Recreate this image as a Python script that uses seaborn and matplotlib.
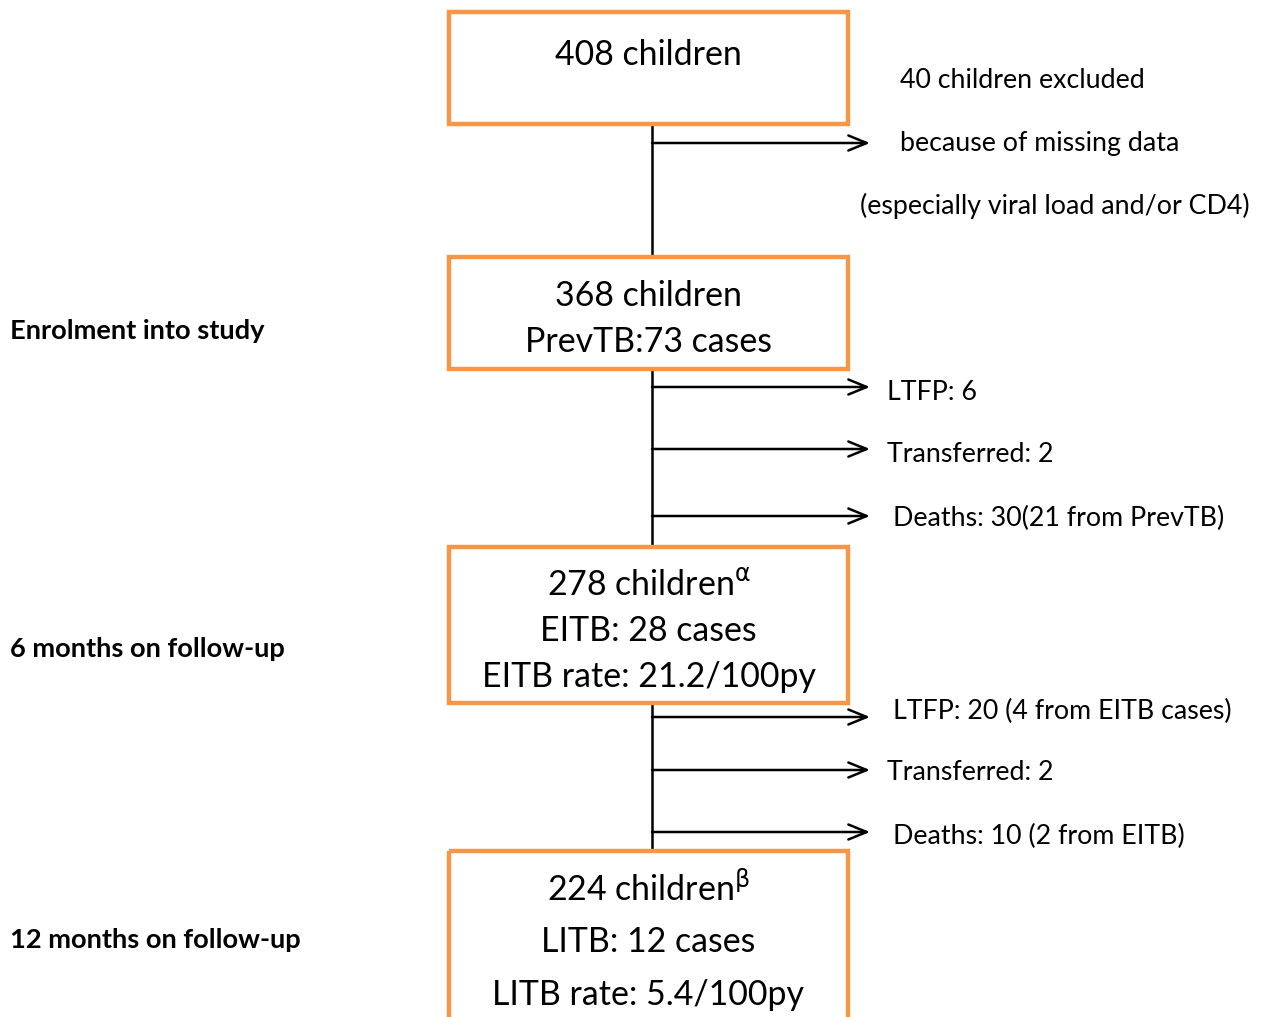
import matplotlib
matplotlib.use("Agg")
import matplotlib.pyplot as plt
import seaborn as sns
import pandas as pd
from matplotlib.patches import Rectangle

sns.set_theme(style="white")
plt.rcParams['font.family'] = ['Lato', 'DejaVu Sans']

# ---- data ----
box_lines = [
    ["408 children"],
    ["368 children", "PrevTB:73 cases"],
    [r"278 children$^{\mathrm{\alpha}}$", "EITB: 28 cases", "EITB rate: 21.2/100py"],
    [r"224 children$^{\mathrm{\beta}}$", "LITB: 12 cases", "LITB rate: 5.4/100py"],
]
stage_labels = ["Enrolment into study", "6 months on follow-up", "12 months on follow-up"]
exit_labels = [
    ["40 children excluded", "because of missing data", "(especially viral load and/or CD4)"],
    ["LTFP: 6", "Transferred: 2", "Deaths: 30(21 from PrevTB)"],
    ["LTFP: 20 (4 from EITB cases)", "Transferred: 2", "Deaths: 10 (2 from EITB)"],
]

# ---- layout (pixel coordinates) ----
W, H = 1269, 1017
box_x0, box_x1 = 449, 848
box_y = [(12, 124), (257, 369), (547, 703), (851, 1030)]
box_text_y = [[55], [296, 342], [585, 631, 677], [889, 942, 995]]
stage_y = [331, 649, 940]
trunk_x = 652
arrow_end = 870
arrow_y = [[143], [387, 449, 516], [717, 770, 832]]
exit_pos = [
    [(900, 81), (900, 143), (860, 206)],
    [(887, 393), (887, 455), (893, 518)],
    [(893, 711), (887, 773), (893, 836)],
]
orange = "#F79646"

fig = plt.figure(figsize=(W / 100, H / 100), dpi=100)
ax = fig.add_axes([0, 0, 1, 1])

# trunk connectors via seaborn
segs = []
for i in range(len(box_y) - 1):
    segs.append(pd.DataFrame({"x": [trunk_x, trunk_x],
                              "y": [box_y[i][1], box_y[i + 1][0]],
                              "seg": i}))
df = pd.concat(segs)
sns.lineplot(data=df, x="x", y="y", units="seg", estimator=None,
             color="black", lw=1.8, ax=ax, sort=False)
ax.set_xlim(0, W)
ax.set_ylim(H, 0)
ax.axis("off")

# boxes
for (y0, y1) in box_y:
    ax.add_patch(Rectangle((box_x0, y0), box_x1 - box_x0, y1 - y0,
                           fill=False, edgecolor=orange, lw=3.2, zorder=3))

# box texts
for lines, ys in zip(box_lines, box_text_y):
    for t, y in zip(lines, ys):
        ax.text((box_x0 + box_x1) / 2, y, t, ha="center", va="center",
                fontsize=24.4, color="black")

# arrows
for ys in arrow_y:
    for y in ys:
        ax.annotate("", xy=(arrow_end, y), xytext=(trunk_x, y),
                    arrowprops=dict(arrowstyle="->,head_length=1.1,head_width=0.45",
                                    color="black", lw=1.8, shrinkA=0, shrinkB=0))

# exit texts
for labels, poss in zip(exit_labels, exit_pos):
    for t, (x, y) in zip(labels, poss):
        ax.text(x, y, t, ha="left", va="center", fontsize=19.3, color="black")

# stage labels
for t, y in zip(stage_labels, stage_y):
    ax.text(10, y, t, ha="left", va="center", fontsize=19.6,
            fontweight="bold", color="black")

fig.savefig("out.png", dpi=100)
